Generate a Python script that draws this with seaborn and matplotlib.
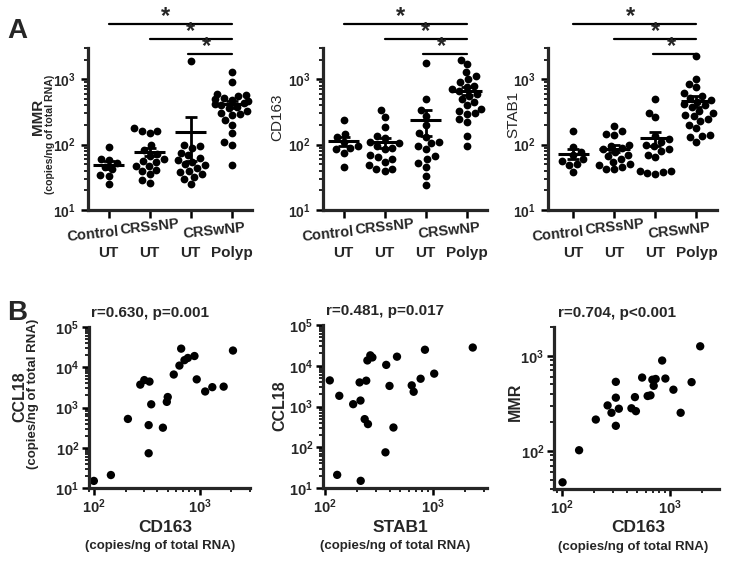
import numpy as np
import pandas as pd
import matplotlib
matplotlib.use("Agg")
import matplotlib.pyplot as plt
import matplotlib.ticker as mticker
import seaborn as sns

# ---- data ----
groups = ["Control UT", "CRSsNP UT", "CRSwNP UT", "CRSwNP Polyp"]

mmr_control = [93, 60, 58, 52, 46, 42, 34, 33, 25]
mmr_crssnp = [180, 160, 150, 160, 98, 84, 73, 68, 60, 56, 47, 47, 41, 35, 29, 26, 40, 55]
mmr_crswnp = [1900, 100, 95, 90, 75, 70, 62, 58, 55, 50, 48, 44, 40, 38, 35, 32, 30, 25]
mmr_polyp = [1300, 900, 600, 580, 560, 520, 500, 480, 460, 440, 420, 400, 380, 360,
             330, 300, 290, 280, 240, 200, 150, 110, 100, 48]

cd163_control = [235, 145, 130, 110, 95, 90, 85, 75, 45]
cd163_crssnp = [340, 265, 185, 135, 125, 110, 105, 95, 90, 85, 70, 65, 60, 55, 48, 43, 40, 42]
cd163_crswnp = [1800, 490, 340, 270, 200, 150, 130, 110, 105, 95, 85, 66, 60, 52, 46, 33, 24]
cd163_polyp = [2000, 1700, 1300, 1100, 1000, 900, 800, 750, 700, 650, 600, 560, 500, 450,
               400, 350, 330, 300, 290, 250, 220, 135, 95]

stab1_control = [160, 92, 78, 70, 60, 56, 48, 50, 38]
stab1_crssnp = [195, 160, 145, 140, 100, 95, 90, 85, 76, 70, 68, 60, 55, 50, 45, 42, 43, 48]
stab1_crswnp = [500, 300, 260, 135, 120, 110, 100, 95, 85, 80, 70, 65, 40, 37, 35, 40, 38]
stab1_polyp = [2270, 1000, 830, 750, 620, 560, 520, 480, 450, 420, 400, 370, 330, 300,
               280, 270, 250, 230, 200, 180, 140, 135, 130, 110]

# B1: CCL18 vs CD163
b1_cd163 = [100, 145, 210, 275, 300, 336, 330, 330, 349, 450, 490, 500, 570, 645,
            670, 720, 775, 895, 940, 1130, 1320, 1690, 2070]
b1_ccl18 = [15, 21, 520, 3700, 4800, 4400, 365, 73, 1200, 315, 1380, 1820, 6600, 11000,
            29000, 15000, 17000, 19000, 5000, 2500, 3200, 3300, 26000]

# B2: CCL18 vs STAB1
b2_stab1 = [111, 130, 136, 183, 210, 214, 215, 234, 242, 251, 248, 264, 276, 371, 365,
            398, 433, 467, 640, 667, 774, 849, 1035, 2360]
b2_ccl18 = [4370, 21, 1830, 1140, 3900, 1400, 15, 490, 4300, 370, 13500, 18000, 16000,
            10500, 75, 3200, 305, 16700, 3300, 2300, 4800, 24700, 6400, 28000]

# B3: MMR vs CD163
b3_cd163 = [102, 145, 207, 266, 289, 317, 317, 317, 338, 442, 476, 486, 555, 624, 663,
            690, 710, 740, 850, 910, 1080, 1260, 1590, 1910]
b3_mmr = [47, 102, 214, 301, 252, 532, 363, 184, 278, 281, 368, 262, 590, 378, 384,
          560, 483, 570, 890, 576, 440, 252, 528, 1255]

corr_titles = ["r=0.630, p=0.001", "r=0.481, p=0.017", "r=0.704, p<0.001"]

# ---- style ----
sns.set_style("ticks")
plt.rcParams["font.family"] = ["Liberation Sans", "DejaVu Sans"]
plt.rcParams["font.weight"] = "bold"
plt.rcParams["mathtext.fontset"] = "custom"
plt.rcParams["mathtext.rm"] = "Liberation Sans:bold"
plt.rcParams["mathtext.bf"] = "Liberation Sans:bold"
plt.rcParams["mathtext.it"] = "Liberation Sans:bold:italic"

W, H = 729, 561
fig = plt.figure(figsize=(W / 100, H / 100), dpi=100)


def px(x, y):
    return x / W, 1 - y / H


def add_axes(left, top, right, bottom):
    return fig.add_axes([left / W, 1 - bottom / H, (right - left) / W, (bottom - top) / H])


def pow10(v, pos):
    return r"$\mathbf{10^{%d}}$" % int(round(np.log10(v)))


def style_axis(ax, which_log, labelsize=10.5):
    for s in ["top", "right"]:
        ax.spines[s].set_visible(False)
    for s in ["left", "bottom"]:
        ax.spines[s].set_linewidth(2.3)
    ax.tick_params(which="major", length=5, width=1.8, labelsize=labelsize, color="black")
    ax.tick_params(which="minor", length=3, width=1.2, color="black")
    for axis in which_log:
        axis.set_major_locator(mticker.LogLocator(base=10))
        axis.set_minor_locator(mticker.LogLocator(base=10, subs=np.arange(2, 10)))
        axis.set_major_formatter(mticker.FuncFormatter(pow10))
        axis.set_minor_formatter(mticker.NullFormatter())


def group_panel(ax, data, xmin):
    df = pd.DataFrame({"group": np.concatenate([[g] * len(v) for g, v in zip(groups, data)]),
                       "value": np.concatenate(data)})
    sns.swarmplot(data=df, x="group", y="value", order=groups, ax=ax, color="black",
                  size=5.6, linewidth=0, log_scale=True, warn_thresh=1)
    stats = df.groupby("group")["value"].agg(["mean", "sem"]).reindex(groups)
    pos = np.arange(len(groups))
    ax.hlines(stats["mean"], pos - 0.37, pos + 0.37, color="black", lw=2.2, zorder=5)
    ax.errorbar(pos, stats["mean"], yerr=stats["sem"], fmt="none", ecolor="black",
                elinewidth=2, capsize=4.5, capthick=2, zorder=5)
    ax.set_ylim(10, 3000)
    ax.set_xlim(xmin, 3.5)
    ax.set_xlabel("")
    ax.set_ylabel("")
    style_axis(ax, [ax.yaxis], labelsize=10)
    ax.tick_params(axis="y", pad=3.5)
    ax.set_xticks(pos)
    ax.set_xticklabels([])
    ax.tick_params(axis="x", which="major", length=6)
    tr = ax.get_xaxis_transform()
    # second row of category labels
    for p, lab in zip(pos, ["UT", "UT", "UT", "Polyp"]):
        ax.text(p, -0.265, lab, transform=tr, ha="center", va="center", fontsize=11)
    for p, yy, lab in [(-0.38, -0.148, "Control"), (1.0, -0.105, "CRSsNP"),
                       (2.58, -0.13, "CRSwNP")]:
        ax.text(p, yy, lab, transform=tr, ha="center", va="center", fontsize=10.5,
                rotation=6, rotation_mode="anchor")
    # significance bars
    for x0, xs, yy in [(0, 1.4, 1.148), (1, 2.0, 1.056), (1.95, 2.4, 0.963)]:
        ax.plot([x0, 3], [yy, yy], color="black", lw=1.6, transform=tr, clip_on=False)
        ax.text(xs, yy + 0.045, "*", transform=tr, ha="center", va="center",
                fontsize=17)


def corr_panel(ax, x, y, title, xlim, ylim):
    sns.scatterplot(x=x, y=y, ax=ax, color="black", s=36, edgecolor="none", linewidth=0)
    ax.set_xscale("log")
    ax.set_yscale("log")
    ax.set_xlim(*xlim)
    ax.set_ylim(*ylim)
    style_axis(ax, [ax.xaxis, ax.yaxis])
    ax.tick_params(axis="y", pad=2)
    ax.tick_params(axis="x", pad=2)
    ax.text(0.38, 1.087, title, transform=ax.transAxes, ha="center", va="center",
            fontsize=11)


# ---- panel A ----
axA1 = add_axes(88, 48, 252, 210)
axA2 = add_axes(323, 48, 487, 210)
axA3 = add_axes(548, 48, 717, 210)
group_panel(axA1, [mmr_control, mmr_crssnp, mmr_crswnp, mmr_polyp], -0.5)
group_panel(axA2, [cd163_control, cd163_crssnp, cd163_crswnp, cd163_polyp], -0.5)
group_panel(axA3, [stab1_control, stab1_crssnp, stab1_crswnp, stab1_polyp], -0.62)

# ---- panel B ----
axB1 = add_axes(89, 327, 250, 488)
axB2 = add_axes(323, 325, 487, 488)
axB3 = add_axes(554, 327, 719, 489)
corr_panel(axB1, b1_cd163, b1_ccl18, corr_titles[0], (90, 3000), (10, 1e5))
corr_panel(axB2, b2_stab1, b2_ccl18, corr_titles[1], (96, 3200), (10, 1e5))
corr_panel(axB3, b3_cd163, b3_mmr, corr_titles[2], (85, 2850), (40, 2000))

# ---- labels ----
sub = "(copies/ng of total RNA)"
fig.text(*px(17, 31), "A", fontsize=20, ha="center", va="center")
fig.text(*px(17, 313), "B", fontsize=20, ha="center", va="center")

fig.text(*px(38, 117), "MMR", rotation=90, fontsize=11, ha="center", va="center")
fig.text(*px(50, 134), sub, rotation=90, fontsize=7.6, ha="center", va="center")
fig.text(*px(277, 117), "CD163", rotation=90, fontsize=11, fontweight="normal",
         ha="center", va="center")
fig.text(*px(513, 114), "STAB1", rotation=90, fontsize=11, fontweight="normal",
         ha="center", va="center")

fig.text(*px(20, 397), "CCL18", rotation=90, fontsize=11.5, ha="center", va="center")
fig.text(*px(33, 394), sub, rotation=90, fontsize=9.5, ha="center", va="center")
fig.text(*px(280, 406), "CCL18", rotation=90, fontsize=11.5, ha="center", va="center")
fig.text(*px(515, 402), "MMR", rotation=90, fontsize=11.5, ha="center", va="center")

for xc, yc, lab in [(165, 527, "CD163"), (400, 527, "STAB1"), (638, 528, "CD163")]:
    fig.text(*px(xc, yc), lab, fontsize=12.5, ha="center", va="center")
    fig.text(*px(xc - 5, yc + 19), sub, fontsize=9.5, ha="center", va="center")

fig.savefig("out.png", dpi=100)
